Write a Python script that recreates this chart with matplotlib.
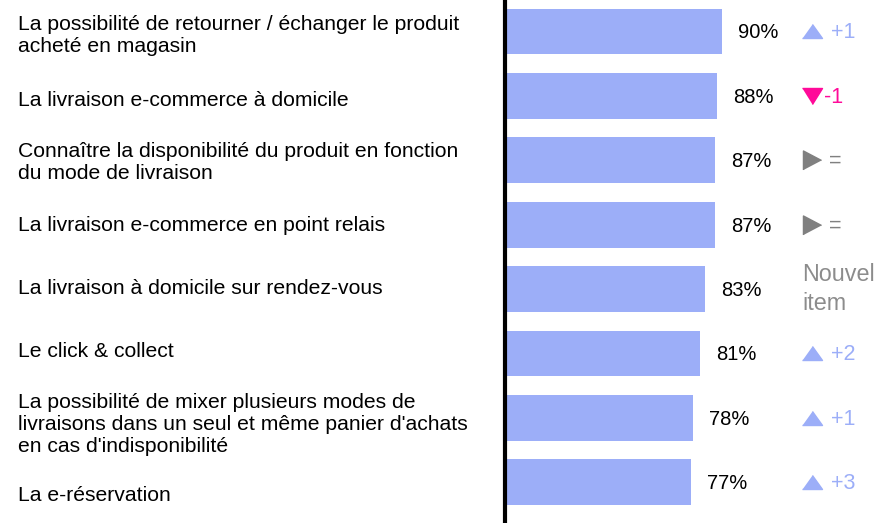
import matplotlib.pyplot as plt
from matplotlib.transforms import blended_transform_factory

plt.rcParams['font.family'] = ['Liberation Sans', 'DejaVu Sans']

# Data
labels = [
    "La possibilité de retourner / échanger le produit\nacheté en magasin",
    "La livraison e-commerce à domicile",
    "Connaître la disponibilité du produit en fonction\ndu mode de livraison",
    "La livraison e-commerce en point relais",
    "La livraison à domicile sur rendez-vous",
    "Le click & collect",
    "La possibilité de mixer plusieurs modes de\nlivraisons dans un seul et même panier d'achats\nen cas d'indisponibilité",
    "La e-réservation",
]
values = [90, 88, 87, 87, 83, 81, 78, 77]
changes = ["+1", "-1", "=", "=", "Nouvel\nitem", "+2", "+1", "+3"]

bar_color = '#9caef8'
up_color = '#9caef8'
down_color = '#ff0a99'
flat_color = '#808080'
new_color = '#8c8c8c'

W, H = 881, 523
fig = plt.figure(figsize=(W / 100, H / 100), dpi=100)
ax = fig.add_axes([505 / W, 0, (W - 505) / W, 1])

rows = list(range(len(values)))
ax.barh(rows, values, height=0.71, color=bar_color, zorder=1)

ax.set_xlim(0, (W - 505) / 2.41)
ax.set_ylim(7.632, -0.489)
for s in ['top', 'right', 'bottom']:
    ax.spines[s].set_visible(False)
ax.spines['left'].set_linewidth(3)
ax.spines['left'].set_color('black')
ax.spines['left'].set_zorder(3)
ax.set_xticks([])
ax.set_yticks([])

# left labels (small vertical nudges, in pixels, to follow the original layout)
label_dy = [-4, -5, -2, -1, 1, 2, -7, -13]
for i, (lab, dy) in enumerate(zip(labels, label_dy)):
    ax.annotate(lab, xy=(18 / W, i), xycoords=('figure fraction', 'data'),
                xytext=(0, dy * 0.72), textcoords='offset points',
                ha='left', va='center', fontsize=15.2, color='black',
                linespacing=1.2, annotation_clip=False)

# value labels
for i, v in enumerate(values):
    ax.annotate(f"{v}%", xy=(v, i), xytext=(11.5, -1), textcoords='offset points',
                ha='left', va='center', fontsize=14.5, color='black')

# change column
tr = blended_transform_factory(ax.transAxes, ax.transData)
x_mark = (812 - 505) / (W - 505)
up_tri = [(-1, -0.7), (1, -0.7), (0, 0.7)]
down_tri = [(-1, 0.8), (1, 0.8), (0, -0.8)]
right_tri = [(-0.95, -1), (-0.95, 1), (0.95, 0)]
for i, c in enumerate(changes):
    if c.startswith('+'):
        marker, ms, col, dx = up_tri, 14.4, up_color, 19
    elif c.startswith('-'):
        marker, ms, col, dx = down_tri, 14.4, down_color, 12
    elif c == '=':
        marker, ms, col, dx = right_tri, 13.7, flat_color, 17
    else:
        ax.text((802 - 505) / (W - 505), i, c, transform=tr, ha='left', va='center',
                fontsize=16.8, color=new_color, linespacing=1.3)
        continue
    ax.plot([x_mark], [i], marker=marker, markersize=ms, color=col,
            linestyle='none', transform=tr, clip_on=False)
    ax.annotate(c, xy=(x_mark, i), xycoords=tr, xytext=(dx * 0.72, -1),
                textcoords='offset points', ha='left', va='center',
                fontsize=15.5, color=col)

fig.savefig('out.png', dpi=100)
